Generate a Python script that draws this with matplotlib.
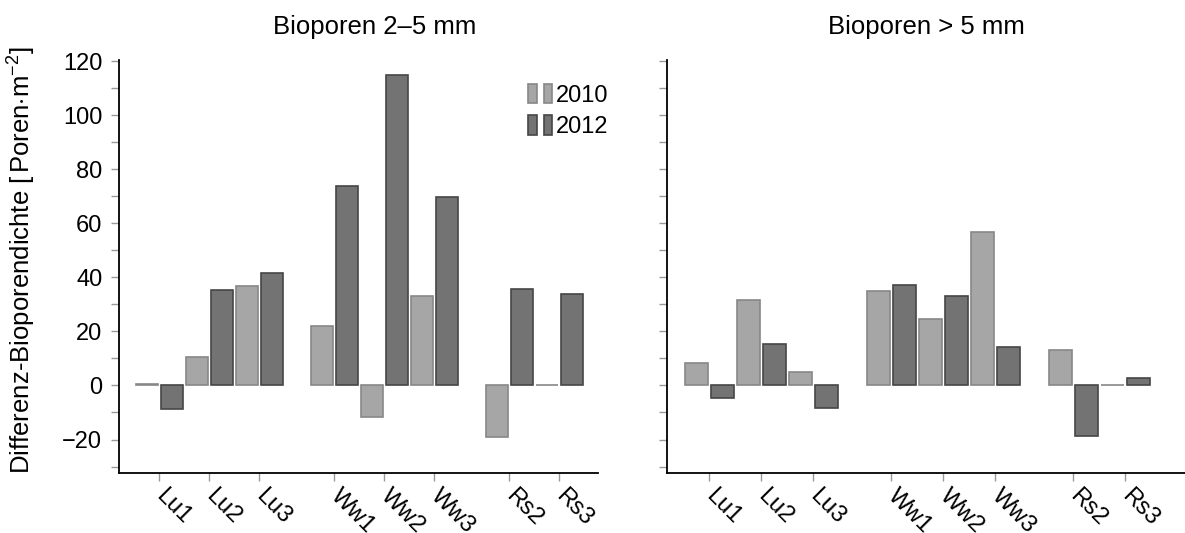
import numpy as np
import matplotlib
matplotlib.use("Agg")
import matplotlib.pyplot as plt
from matplotlib.patches import Rectangle
from matplotlib.legend_handler import HandlerTuple
from matplotlib.ticker import MultipleLocator

plt.rcParams['font.family'] = ['Liberation Sans', 'DejaVu Sans']
plt.rcParams['mathtext.fontset'] = 'custom'
plt.rcParams['mathtext.rm'] = 'Liberation Sans'
plt.rcParams['mathtext.it'] = 'Liberation Sans:italic'

# data
sites = ['Lu1', 'Lu2', 'Lu3', 'Ww1', 'Ww2', 'Ww3', 'Rs2', 'Rs3']
pos = np.array([0, 1, 2, 3.5, 4.5, 5.5, 7, 8])

small_2010 = [0.4, 10.7, 36.8, 22.1, -11.7, 33.2, -19.0, 0.3]
small_2012 = [-8.6, 35.5, 41.5, 73.7, 114.8, 69.6, 35.9, 33.8]

big_2010 = [8.4, 31.6, 4.9, 35.1, 24.6, 56.7, 13.1, 0.3]
big_2012 = [-4.6, 15.2, -8.5, 37.3, 33.2, 14.2, -18.6, 2.8]

c2010, e2010 = '#a6a6a6', '#878787'
c2012, e2012 = '#737373', '#464646'
fs = 17
fs_t = 18.5

fig = plt.figure(figsize=(11.85, 5.33), dpi=100)
W, H = 1185, 533
ax1 = fig.add_axes([119 / W, 1 - 473 / H, (598 - 119) / W, (473 - 60) / H])
ax2 = fig.add_axes([667 / W, 1 - 473 / H, (1185 - 667) / W, (473 - 60) / H])


def draw(ax, v10, v12, xlim):
    b1 = ax.bar(pos - 0.25, v10, width=0.44, color=c2010, edgecolor=e2010, linewidth=1.2)
    b2 = ax.bar(pos + 0.25, v12, width=0.44, color=c2012, edgecolor=e2012, linewidth=1.2)
    ax.set_xlim(*xlim)
    ax.set_ylim(-32.4, 120.5)
    ax.yaxis.set_major_locator(MultipleLocator(20))
    ax.yaxis.set_minor_locator(MultipleLocator(10))
    ax.set_xticks(pos)
    ax.set_xticklabels(sites, rotation=-45, ha='left', va='center',
                       rotation_mode='anchor', fontsize=fs)
    for s in ['top', 'right']:
        ax.spines[s].set_visible(False)
    for s in ['left', 'bottom']:
        ax.spines[s].set_linewidth(1.3)
    ax.tick_params(which='both', direction='out', length=6, width=1,
                   color='#999999', labelsize=fs)
    ax.tick_params(axis='x', pad=8)
    ax.tick_params(axis='y', pad=6)
    return b1, b2


b1, b2 = draw(ax1, small_2010, small_2012, (-0.8, 8.78))
draw(ax2, big_2010, big_2012, (-0.81, 9.15))
ax2.tick_params(axis='y', labelleft=False)

fig.text(375 / W, 1 - 27 / H, 'Bioporen 2–5 mm', ha='center', va='center', fontsize=fs_t)
fig.text(926 / W, 1 - 27 / H, 'Bioporen > 5 mm', ha='center', va='center', fontsize=fs_t)
fig.text(22 / W, 1 - 260 / H, r'Differenz-Bioporendichte [$\,$Poren$\cdot$m$^{-2}$]',
         rotation=90, ha='center', va='center', fontsize=fs_t)

h10 = (Rectangle((0, 0), 1, 1, fc=c2010, ec=e2010, lw=1.2),
       Rectangle((0, 0), 1, 1, fc=c2010, ec=e2010, lw=1.2))
h12 = (Rectangle((0, 0), 1, 1, fc=c2012, ec=e2012, lw=1.2),
       Rectangle((0, 0), 1, 1, fc=c2012, ec=e2012, lw=1.2))
ax1.legend([h10, h12], ['2010', '2012'],
           handler_map={tuple: HandlerTuple(ndivide=None, pad=0.3)},
           loc='upper left', bbox_to_anchor=(0.835, 0.965), frameon=False,
           fontsize=fs, handlelength=1.0, handleheight=0.9,
           handletextpad=0.15, labelspacing=0.35, borderaxespad=0)

fig.savefig('out.png', dpi=100)
